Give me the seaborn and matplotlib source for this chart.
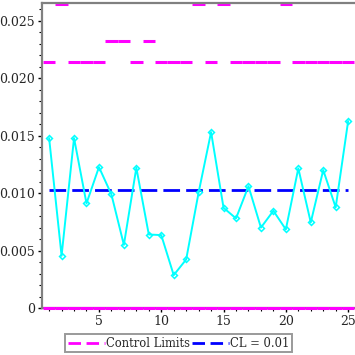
import numpy as np
import pandas as pd
import seaborn as sns
import matplotlib.pyplot as plt
from matplotlib.lines import Line2D
from matplotlib.ticker import MultipleLocator, FuncFormatter

# p-chart data
sample = list(range(1, 26))
proportion = [0.01478, 0.00455, 0.01478, 0.0091, 0.01226, 0.00988, 0.0055, 0.0122,
              0.0064, 0.00635, 0.00287, 0.00423, 0.01006, 0.0153, 0.00872, 0.0078,
              0.0106, 0.0070, 0.00846, 0.00684, 0.01215, 0.00745, 0.0120, 0.00876,
              0.01626]
ucl = [0.0214, 0.0264, 0.0214, 0.0214, 0.0214, 0.0232, 0.0232, 0.0214, 0.0232, 0.0214,
       0.0214, 0.0214, 0.0264, 0.0214, 0.0264, 0.0214, 0.0214, 0.0214, 0.0214, 0.0264,
       0.0214, 0.0214, 0.0214, 0.0214, 0.0214]
lcl = [0.0] * 25
center = 0.01026

df = pd.DataFrame({'sample': sample, 'p': proportion, 'ucl': ucl, 'lcl': lcl})

sns.set_style('white')
plt.rcParams['font.family'] = ['DejaVu Serif']
plt.rcParams['font.size'] = 9

fig = plt.figure(figsize=(3.55, 3.55), dpi=100)
ax = fig.add_axes([0.118, 0.132, 0.882, 0.8595])

magenta = '#ff00ff'
blue = '#0000ff'
cyan = '#00ffff'

# control limits, one step per sample
ax.hlines(df['ucl'], df['sample'] - 0.5, df['sample'] + 0.5, color=magenta, lw=2.2,
          clip_on=False)
ax.hlines(df['lcl'], df['sample'] - 0.5, df['sample'] + 0.5, color=magenta, lw=2.2,
          clip_on=False, zorder=5)

# center line
ax.hlines(center, df['sample'].min(), df['sample'].max(), color=blue, lw=2,
          linestyles=(0, (6, 2.2)))

sns.lineplot(data=df, x='sample', y='p', ax=ax, color=cyan, lw=1.4, marker='D',
             markersize=3, markerfacecolor='none', markeredgecolor=cyan,
             markeredgewidth=1.1)

ax.set_xlim(0.42, 25.55)
ax.set_ylim(0, 0.02652)
ax.set_xlabel('')
ax.set_ylabel('')

ax.xaxis.set_major_locator(MultipleLocator(5))
ax.xaxis.set_minor_locator(MultipleLocator(1))
ax.yaxis.set_major_locator(MultipleLocator(0.005))
ax.yaxis.set_minor_locator(MultipleLocator(0.001))
ax.yaxis.set_major_formatter(FuncFormatter(lambda v, p: '0' if abs(v) < 1e-9 else f'{v:.3f}'))
ax.tick_params(which='major', direction='out', length=3, width=1, color='black',
               pad=2, left=True, bottom=True)
ax.tick_params(which='minor', direction='out', length=2, width=0.8, color='black',
               left=True, bottom=True)

for side in ['left', 'bottom', 'top']:
    ax.spines[side].set_color('#808080')
    ax.spines[side].set_linewidth(1.6)
ax.spines['right'].set_visible(False)

handles = [Line2D([], [], color=magenta, lw=2, linestyle=(0, (4.5, 2))),
           Line2D([], [], color=blue, lw=2, linestyle=(0, (4.5, 2)))]
leg = fig.legend(handles, ['Control Limits', 'CL = 0.01'], loc='lower center',
                 bbox_to_anchor=(0.503, -0.008), ncol=2, frameon=True, fancybox=False,
                 handlelength=3.2, handletextpad=0.1, columnspacing=0.2,
                 borderpad=0.2, fontsize=8.3)
leg.get_frame().set_edgecolor('#808080')
leg.get_frame().set_linewidth(1.4)

fig.savefig('out.png', dpi=100)
